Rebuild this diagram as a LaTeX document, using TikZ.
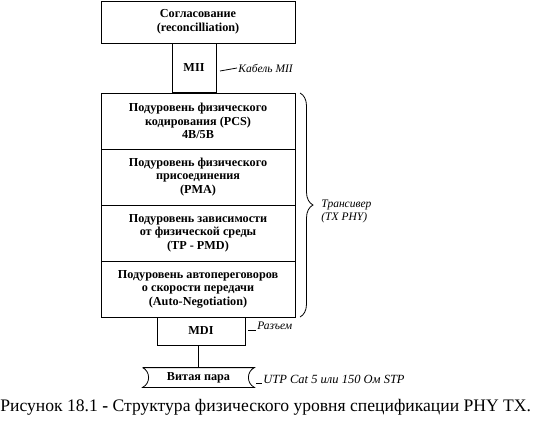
\documentclass[tikz,border=0pt]{standalone}
\usepackage{fontspec}
\setmainfont{Liberation Serif}
\usetikzlibrary{decorations.pathreplacing}
\tikzset{
  layer/.style={draw,minimum width=194pt,align=center,inner sep=0pt,
    font=\fontsize{12.2}{13.5}\selectfont\bfseries},
  remark/.style={anchor=west,inner sep=1pt,font=\fontsize{11.5}{13}\selectfont\itshape}
}
\begin{document}
\begin{tikzpicture}[x=1pt,y=-1pt,line width=0.8pt]
  \useasboundingbox (0,0) rectangle (534,420);
  % stack of sublayers
  \node[layer,minimum height=42pt] (recon) at (198,22) {Согласование\\(reconcilliation)};
  \node[layer,minimum width=44pt,minimum height=49pt] (mii) at (194,67.5) {MII};
  \node[layer,minimum height=56pt] (pcs) at (198,121)
  {Подуровень физического\\кодирования (PCS)\\4B/5B};
  \node[layer,minimum height=56pt] (pma) at (198,177)
  {Подуровень физического\\присоединения\\(PMA)};
  \node[layer,minimum height=56pt] (pmd) at (198,233)
  {Подуровень зависимости\\от физической среды\\(TP - PMD)};
  \node[layer,minimum height=56pt] (autoneg) at (198,289)
  {Подуровень автопереговоров\\о скорости передачи\\(Auto-Negotiation)};
  \node[layer,minimum width=88pt,minimum height=28pt] (mdi) at (201,331) {MDI};
  % twisted pair
  \node[layer,draw=none,minimum width=111pt,minimum height=19pt] (pair) at (198.5,377.5) {Витая пара};
  \draw (pair.north west) -- (pair.north east)
    .. controls +(-8,4) and +(-8,-4) .. (pair.south east)
    -- (pair.south west)
    .. controls +(8,-4) and +(8,4) .. (pair.north west);
  \draw (pair.north) -- (pair.north |- mdi.south);
  % side notes
  \node[remark] (miinote) at (237,68) {Кабель MII};
  \coordinate (miitick) at (220,71);
  \draw (miitick) -- (miinote.west);
  \node[remark] (mdinote) at (256,326) {Разъем};
  \coordinate (mditick) at (248,330);
  \draw (mditick) -- (mditick -| mdinote.west);
  \node[remark,font=\fontsize{12.5}{13}\selectfont\itshape] (pairnote) at (262,379) {UTP Cat 5 или 150 Ом STP};
  \coordinate (pairtick) at (256,383);
  \draw (pairtick) -- (pairtick -| pairnote.west);
  \coordinate (bracetop) at (300,93);
  \coordinate (bracebot) at (300,317);
  \draw[decorate,decoration={brace,amplitude=13pt}] (bracetop) -- (bracebot);
  \node[remark,align=left] (phynote) at (320,211) {Трансивер\\(TX PHY)};
  % caption
  \node[anchor=west,inner sep=0pt,font=\fontsize{17.6}{19}\selectfont] (caption) at (0,407)
  {Рисунок 18.1 {\bfseries -} Структура физического уровня спецификации PHY TX.};
\end{tikzpicture}
\end{document}
